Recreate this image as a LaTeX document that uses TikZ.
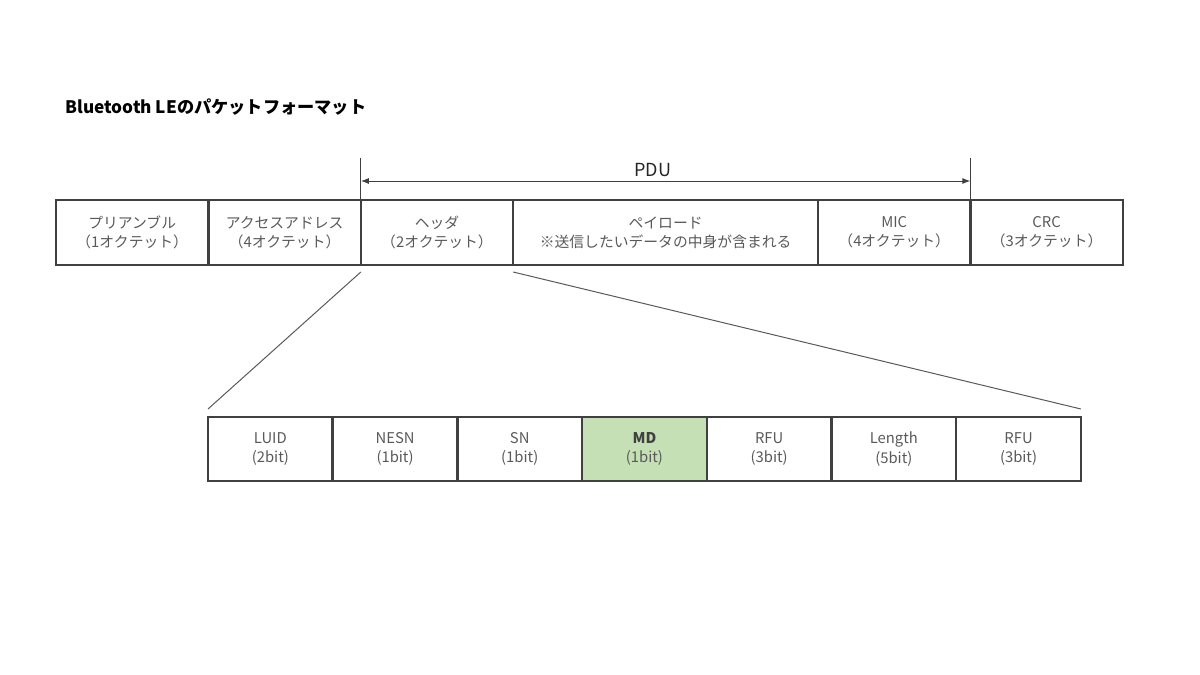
\documentclass[tikz,border=0pt]{standalone}
\usepackage{fontspec}
\setmainfont{Noto Sans CJK JP}
\usepackage{xcolor}
\usetikzlibrary{positioning,arrows.meta}

\definecolor{framegray}{HTML}{404040}
\definecolor{textgray}{HTML}{595959}
\definecolor{mdgreen}{HTML}{C5E0B4}

\begin{document}
\begin{tikzpicture}[x=0.5pt,y=-0.5pt,
field/.style={draw=framegray,line width=1.25pt,text=textgray,align=center,
  inner sep=0pt,outer sep=0pt,font=\fontsize{7.4}{9.6}\selectfont},
octet/.style={field,minimum width=76.2pt,minimum height=32.5pt},
bitbox/.style={field,minimum width=62.35pt,minimum height=32pt},
zoomline/.style={draw=textgray,line width=0.5pt}]
\useasboundingbox (0,0) rectangle (1200,675);

    % title
    \node[anchor=west,inner sep=0pt,font=\fontsize{8.6}{10}\selectfont\bfseries] (title) at (65,107) {Bluetooth LEのパケットフォーマット};

    % packet fields
    \node[octet,anchor=north west] (pre) at (56,200) {プリアンブル\\（1オクテット）};
    \node[octet,right=0pt of pre] (acc) {アクセスアドレス\\（4オクテット）};
    \node[octet,right=0pt of acc] (hdr) {ヘッダ\\（2オクテット）};
    \node[octet,minimum width=152.4pt,right=0pt of hdr] (pay) {ペイロード\\※送信したいデータの中身が含まれる};
    \node[octet,right=0pt of pay] (mic) {MIC\\（4オクテット）};
    \node[octet,right=0pt of mic] (crc) {CRC\\（3オクテット）};

    % PDU range
    \draw[zoomline,draw=framegray] (hdr.north west) -- ([yshift=21pt]hdr.north west);
    \draw[zoomline,draw=framegray] (mic.north east) -- ([yshift=21pt]mic.north east);
    \draw[zoomline,draw=framegray,{Latex[length=4pt,width=3pt]}-{Latex[length=4pt,width=3pt]}]
      ([yshift=9.5pt]hdr.north west) -- ([yshift=9.5pt]mic.north east)
      node[midway,above=2pt,xshift=-6.5pt,inner sep=0pt,text=black!85,font=\fontsize{9}{10}\selectfont] (pdu) {PDU};

    % header bits
    \node[bitbox,anchor=north west] (luid) at (208,417) {LUID\\(2bit)};
    \node[bitbox,right=0pt of luid] (nesn) {NESN\\(1bit)};
    \node[bitbox,right=0pt of nesn] (sn) {SN\\(1bit)};
    \node[bitbox,fill=mdgreen,right=0pt of sn] (md) {\textbf{\textcolor{framegray}{MD}}\\(1bit)};
    \node[bitbox,right=0pt of md] (rfua) {RFU\\(3bit)};
    \node[bitbox,right=0pt of rfua] (len) {Length\\(5bit)};
    \node[bitbox,right=0pt of len] (rfub) {RFU\\(3bit)};

    % zoom lines
    \draw[zoomline] ([yshift=-3.5pt]hdr.south west) -- ([yshift=4pt]luid.north west);
    \draw[zoomline] ([yshift=-3.5pt]hdr.south east) -- ([yshift=4pt]rfub.north east);

\end{tikzpicture}
\end{document}
